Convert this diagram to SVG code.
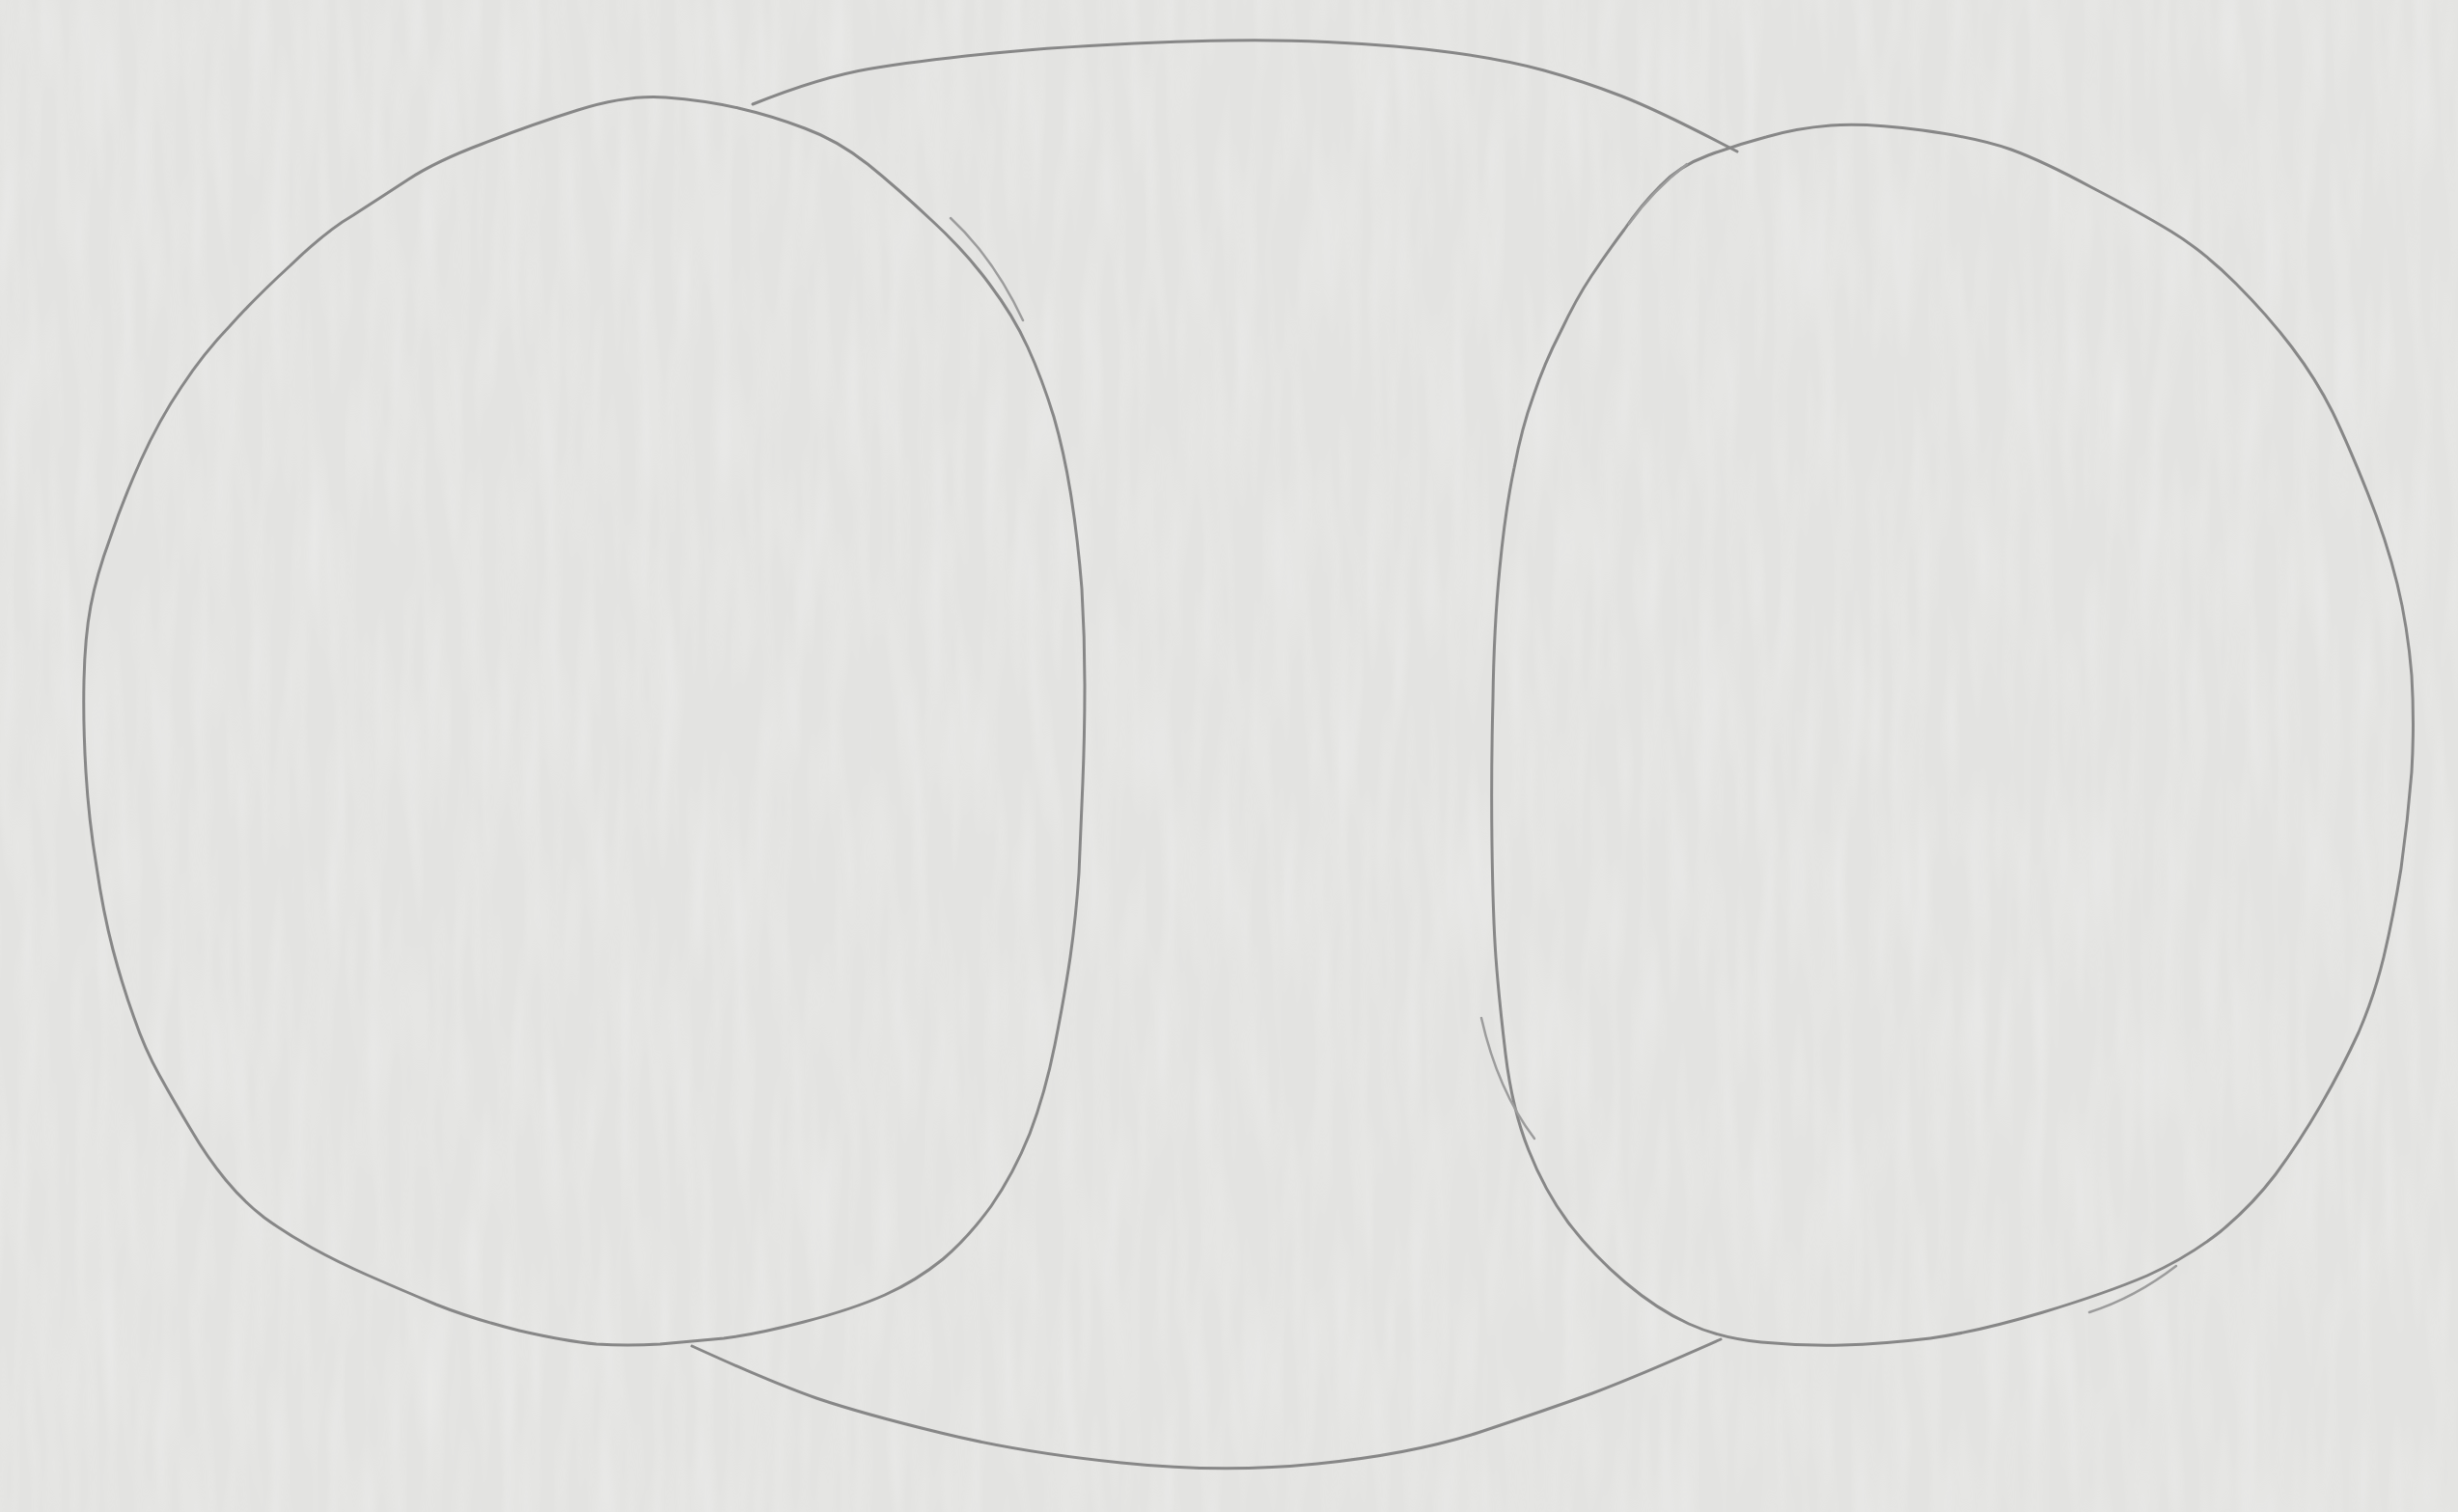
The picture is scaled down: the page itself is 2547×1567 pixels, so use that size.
<svg xmlns="http://www.w3.org/2000/svg" width="2547" height="1567" viewBox="0 0 2547 1567">
<style>
.pencil{fill:none;stroke:#878787;stroke-width:3;stroke-linecap:round;stroke-linejoin:round}
.faint{fill:none;stroke:#9c9c9c;stroke-width:2.5;stroke-linecap:round}
</style>
<defs>
<filter id="paper" x="0" y="0" width="100%" height="100%">
<feTurbulence type="fractalNoise" baseFrequency="0.05 0.006" numOctaves="2" seed="3"/>
<feColorMatrix type="matrix" values="0 0 0 0 1  0 0 0 0 1  0 0 0 0 1  0 0 0 0.9 -0.35"/>
</filter>
</defs>
<rect width="2547" height="1567" fill="#e3e3e1"/>
<rect width="2547" height="1567" filter="url(#paper)" opacity="0.45"/>
<g id="middle">
<path class="pencil" d="M780,108 Q850,80 900,71.5 Q950,63 1025,55.5 Q1100,48 1200,44 Q1300,40 1375,43.5 Q1450,47 1505,54.5 Q1560,62 1600,73 Q1640,84 1680,99.5 Q1720,115 1800,157"/>
<path class="pencil" d="M717,1395 Q800,1433 846,1449 Q893,1465 975,1485 Q1056,1505 1162,1516 Q1267,1527 1365,1517 Q1462,1507 1531,1485 Q1600,1462 1650,1444 Q1700,1425 1783,1388"/>
</g>
<g id="left-circle">
<path class="pencil" d="M599,114 Q650,98 690,101 Q730,104 765,112 Q800,120 834,133 Q867,145 899,170 Q930,195 965,228 Q1000,260 1025,294 Q1050,327 1065,360 Q1080,393 1092,432 Q1103,470 1110,515 Q1117,560 1121,610 Q1124,660 1124,710 Q1124,760 1122,810 Q1120,860 1118,905 Q1115,950 1109,992 Q1103,1033 1093,1083 Q1083,1133 1067,1175 Q1050,1217 1027,1250 Q1003,1283 977,1305 Q950,1327 917,1342 Q883,1357 833,1370 Q783,1383 750,1387 Q717,1390 684,1393 Q650,1395 618,1393 Q586,1390 538,1379 Q490,1367 452,1352 Q414,1336 382,1322 Q350,1308 323,1293 Q296,1278 274,1262 Q252,1245 234,1223 Q215,1200 198,1171 Q180,1141 165,1114 Q150,1087 139,1055 Q127,1022 117,984 Q107,946 100,898 Q92,850 89,800 Q86,750 87,705 Q88,660 94,628 Q100,596 114,558 Q127,519 146,477 Q165,435 188,401 Q211,366 238,338 Q264,309 301,275 Q337,240 366,223 Q394,205 423,186 Q452,167 500,149 Q548,130 599,114 Z"/>
<path class="faint" d="M985,226 Q1030,268 1060,332"/>
</g>
<g id="right-circle">
<path class="pencil" d="M1897,130 Q1933,127 1992,135 Q2050,143 2084,155 Q2117,167 2167,194 Q2217,220 2250,240 Q2283,260 2317,294 Q2350,327 2375,360 Q2400,393 2417,427 Q2433,460 2453,510 Q2473,560 2484,605 Q2495,650 2499,700 Q2502,750 2499,800 Q2495,850 2488,900 Q2480,950 2470,992 Q2460,1033 2444,1070 Q2427,1107 2405,1145 Q2383,1183 2358,1217 Q2333,1250 2300,1277 Q2267,1303 2225,1322 Q2183,1340 2117,1360 Q2050,1380 2000,1387 Q1950,1393 1909,1394 Q1867,1395 1825,1391 Q1783,1387 1750,1372 Q1717,1357 1684,1329 Q1650,1300 1625,1267 Q1600,1233 1584,1192 Q1567,1150 1560,1092 Q1553,1033 1550,992 Q1547,950 1546,875 Q1545,800 1547,725 Q1548,650 1554,589 Q1560,527 1569,485 Q1577,443 1589,410 Q1600,377 1617,344 Q1633,310 1649,286 Q1665,262 1683,238 Q1700,213 1720,193 Q1740,172 1770,161 Q1800,150 1830,142 Q1860,133 1897,130 Z"/>
<path class="faint" d="M1535,1055 Q1552,1130 1590,1180"/>
<path class="faint" d="M2165,1360 Q2212,1345 2255,1312"/>
<path class="faint" d="M1688,232 Q1712,198 1748,170"/>
</g>
</svg>
